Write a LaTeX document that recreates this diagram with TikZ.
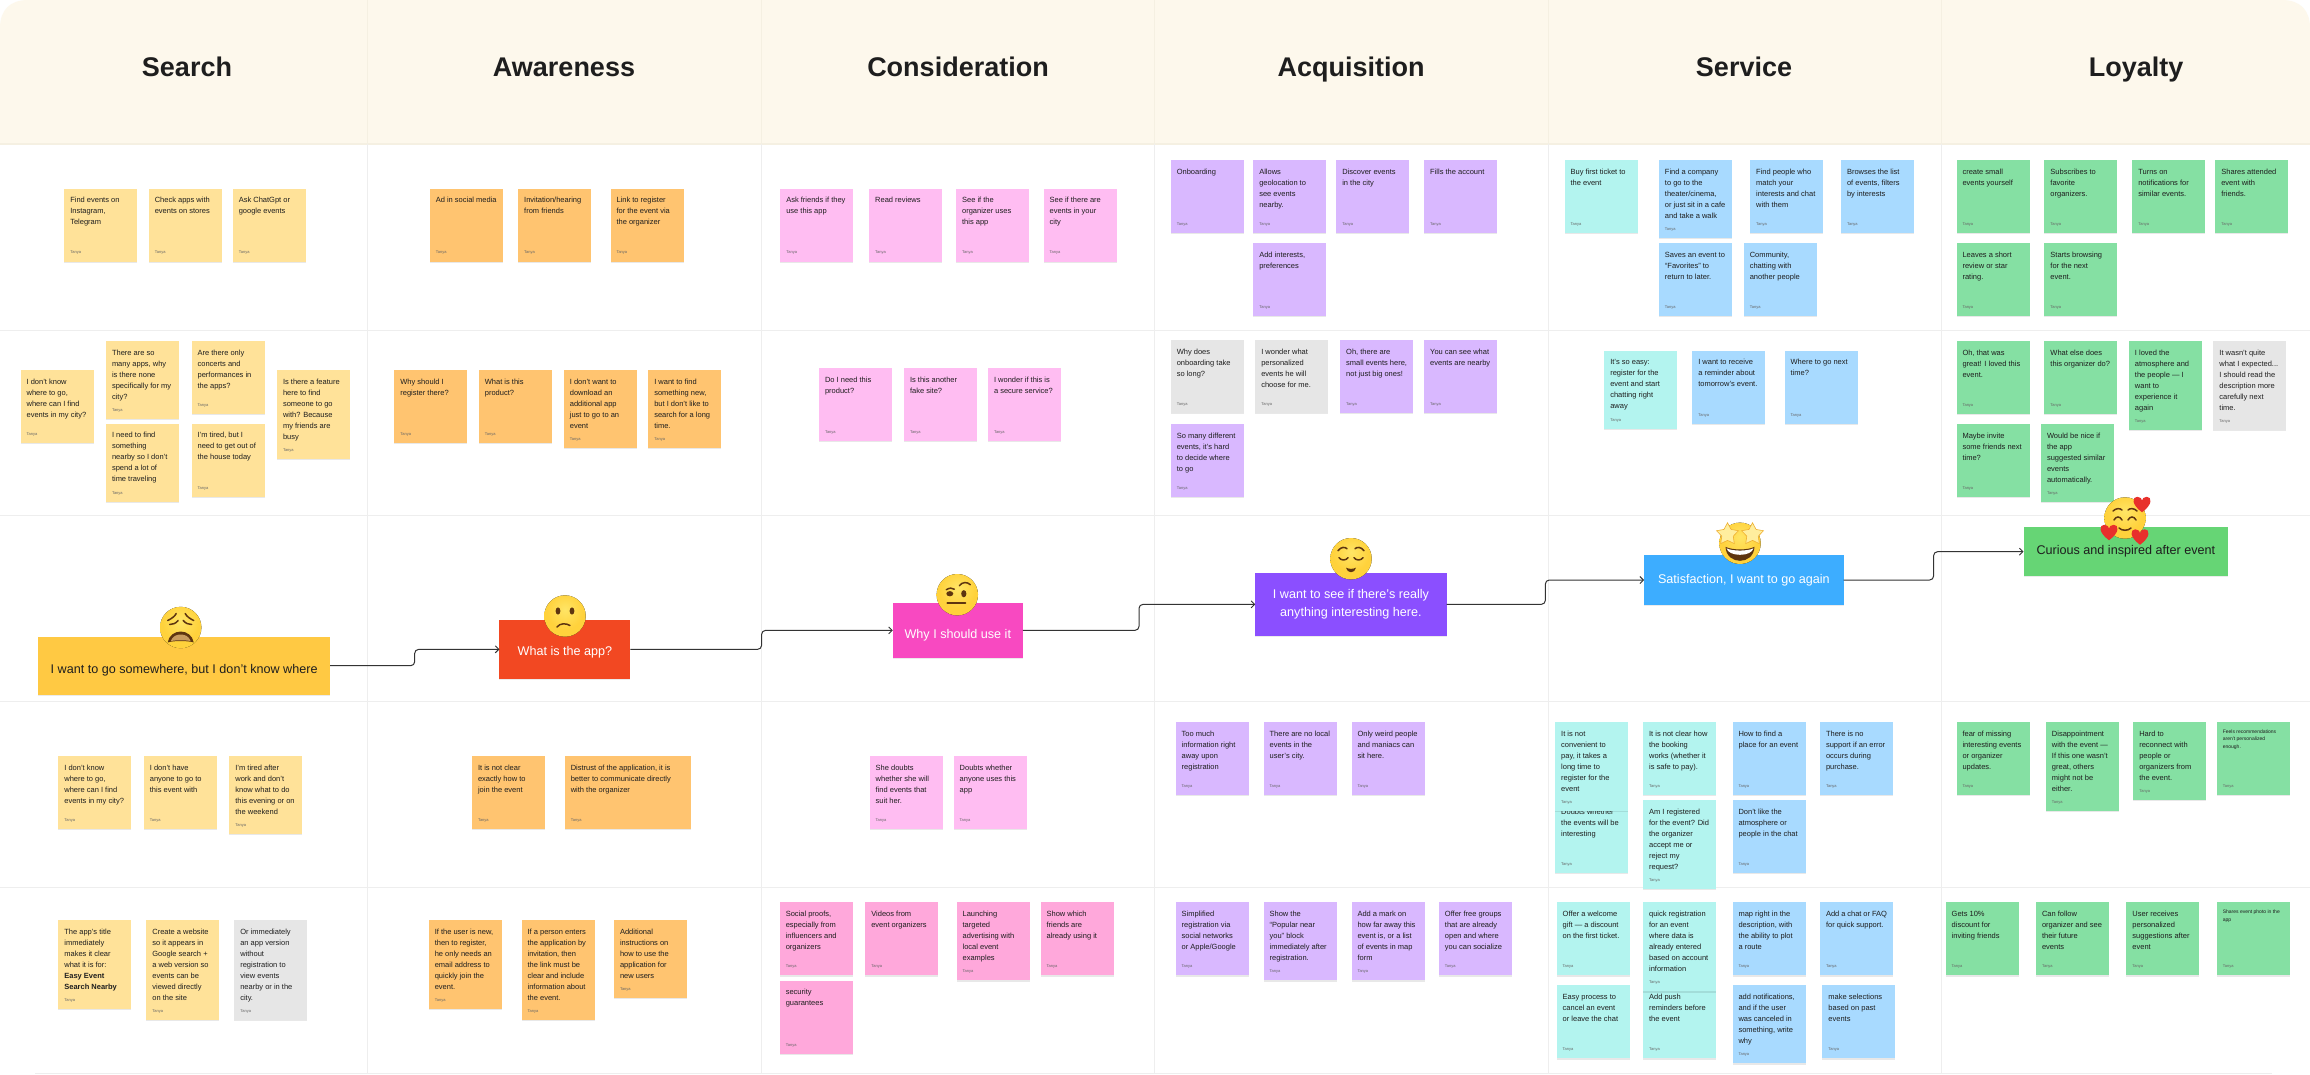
\documentclass[tikz,border=0pt]{standalone}
\usepackage{fontspec}
\setmainfont{Liberation Sans}
\usetikzlibrary{arrows.meta,calc,shadows,shapes.geometric}

\definecolor{headbg}{HTML}{FDF8EC}
\definecolor{headline}{HTML}{F5F0E2}
\definecolor{gridc}{HTML}{EEEEEE}
\definecolor{inkc}{HTML}{1E1E1E}
\definecolor{yel}{HTML}{FFE299}
\definecolor{ora}{HTML}{FFC470}
\definecolor{pin}{HTML}{FFBDF2}
\definecolor{hot}{HTML}{FFA8DB}
\definecolor{vio}{HTML}{D9B8FF}
\definecolor{tea}{HTML}{B3F4EF}
\definecolor{blu}{HTML}{A8DAFF}
\definecolor{gre}{HTML}{85E0A3}
\definecolor{gry}{HTML}{E6E6E6}
\definecolor{myel}{HTML}{FFC943}
\definecolor{mred}{HTML}{F24822}
\definecolor{mmag}{HTML}{F849C1}
\definecolor{mvio}{HTML}{8B4FFF}
\definecolor{mblu}{HTML}{3DADFF}
\definecolor{mgre}{HTML}{66D575}
\definecolor{emA}{HTML}{FFE566}
\definecolor{emB}{HTML}{FFD23C}
\definecolor{emC}{HTML}{F5A31E}
\definecolor{embrown}{HTML}{5E3510}
\definecolor{emtan}{HTML}{C79A5E}
\definecolor{emstar}{HTML}{FFEE9E}
\definecolor{emedge}{HTML}{EFB030}
\definecolor{emred}{HTML}{E8302C}

\pgfdeclareradialshading{emojiface}{\pgfpoint{0bp}{8bp}}{%
  color(0bp)=(emA); color(22bp)=(emB); color(38bp)=(emB); color(50bp)=(emC); color(100bp)=(emC)}

\tikzset{
  x=1pt,y=-1pt,
  note/.style={anchor=north west,inner sep=6pt,outer sep=0pt,text=inkc,
    drop shadow={shadow xshift=0pt,shadow yshift=-1.2pt,opacity=.09,fill=black}},
  mainbox/.style={anchor=north west,inner sep=0pt,outer sep=0pt,align=center,
    font=\fontsize{12.6}{18}\selectfont,
    drop shadow={shadow xshift=0pt,shadow yshift=-1pt,opacity=.08,fill=black}},
  title/.style={anchor=base,font=\fontsize{27}{30}\selectfont\bfseries,text=inkc,inner sep=0pt},
  gridline/.style={gridc,line width=1pt},
  conn/.style={draw=black!80,line width=1pt,rounded corners=4pt,
    -{Straight Barb[length=3.5pt,width=7pt,line width=.9pt]}},
  face/.style={shading=emojiface,draw=none},
  facefeat/.style={draw=embrown,line width=1.5pt,line cap=round},
  faceink/.style={fill=embrown,draw=none},
  starnode/.style={star,star points=5,star point ratio=1.9,minimum size=23pt,inner sep=0pt,
    fill=emstar,draw=emedge,line width=.6pt}
}

\newcount\stickyn
\def\notestrut{8pt}
\def\notefont{\fontsize{7.5}{11}\selectfont}
\newcommand{\smallnotes}{\def\notestrut{5.5pt}\def\notefont{\fontsize{5}{7.3}\selectfont}}
% [width]{x}{y}{height}{colour}{text}
\newcommand{\sticky}[6][73]{%
  \global\advance\stickyn by 1
  \node[note,fill=#5] (s\the\stickyn) at (#2,#3)
    {\parbox[t][\dimexpr#4pt-12pt\relax][t]{\dimexpr#1pt-12pt\relax}{\raggedright\notefont
      \rule{0pt}{\notestrut}#6\par\vfill
      {\fontsize{4}{4}\selectfont\color{black!60}Tanya}\par\vspace{.8pt}}};}
\newcommand{\heartat}[3]{%
  \fill[emred,shift={(#1,#2)},scale=#3]
    (0,5) .. controls (-7,0) and (-6.5,-5) .. (-3,-5)
    .. controls (-1,-5) and (0,-3.5) .. (0,-2.5)
    .. controls (0,-3.5) and (1,-5) .. (3,-5)
    .. controls (6.5,-5) and (7,0) .. (0,5) -- cycle;}

\begin{document}
\begin{tikzpicture}
\useasboundingbox (0,0) rectangle (2310,1074);
\fill[white] (0,0) rectangle (2310,1074);

% header band
\fill[headbg] (0,144) -- (0,28) .. controls (0,10) and (10,0) .. (28,0) -- (2282,0)
  .. controls (2300,0) and (2310,10) .. (2310,28) -- (2310,144) -- cycle;
\draw[headline,line width=1.4pt] (0,144) -- (2310,144);

% grid
\foreach \yy in {330,515.7,701,887}{\draw[gridline] (0,\yy) -- (2310,\yy);}
\draw[gridline] (35,1073) -- (2272,1073);
\foreach \xx in {367.5,761.5,1154.6,1548,1941}{
  \draw[headline,line width=1pt] (\xx,0) -- (\xx,144);
  \draw[gridline,line width=.8pt] (\xx,144) -- (\xx,1074);}

% titles
\node[title] (h1) at (187,76.7) {Search};
\node[title] (h2) at (564,76.7) {Awareness};
\node[title] (h3) at (958,76.7) {Consideration};
\node[title] (h4) at (1351,76.7) {Acquisition};
\node[title] (h5) at (1744,76.7) {Service};
\node[title] (h6) at (2136,76.7) {Loyalty};

% --- row 1 ---
\sticky{64.3}{188.5}{73}{yel}{Find events on\\Instagram,\\Telegram}
\sticky{148.8}{188.5}{73}{yel}{Check apps with\\events on stores}
\sticky{232.8}{188.5}{73}{yel}{Ask ChatGpt or\\google events}
\sticky{429.8}{188.5}{73}{ora}{Ad in social media}
\sticky{518.2}{188.5}{73}{ora}{Invitation/hearing\\from friends}
\sticky{610.5}{188.5}{73}{ora}{Link to register\\for the event via\\the organizer}
\sticky{780.3}{188.5}{73}{pin}{Ask friends if they\\use this app}
\sticky{869.2}{188.5}{73}{pin}{Read reviews}
\sticky{956.1}{188.5}{73}{pin}{See if the\\organizer uses\\this app}
\sticky{1043.6}{188.5}{73}{pin}{See if there are\\events in your\\city}
\sticky{1170.8}{160}{73}{vio}{Onboarding}
\sticky{1253.3}{160}{73}{vio}{Allows\\geolocation to\\see events\\nearby.}
\sticky{1336.3}{160}{73}{vio}{Discover events\\in the city}
\sticky{1424.2}{160}{73}{vio}{Fills the account}
\sticky{1253.3}{243}{73}{vio}{Add interests,\\preferences}
\sticky{1564.6}{160}{73}{tea}{Buy first ticket to\\the event}
\sticky{1658.9}{160}{78}{blu}{Find a company\\to go to the\\theater/cinema,\\or just sit in a cafe\\and take a walk}
\sticky{1750.2}{160}{73}{blu}{Find people who\\match your\\interests and chat\\with them}
\sticky{1841}{160}{73}{blu}{Browses the list\\of events, filters\\by interests}
\sticky{1658.9}{243}{73}{blu}{Saves an event to\\“Favorites” to\\return to later.}
\sticky{1743.8}{243}{73}{blu}{Community,\\chatting with\\another people}
\sticky{1956.5}{160}{73}{gre}{create small\\events yourself}
\sticky{2044.4}{160}{73}{gre}{Subscribes to\\favorite\\organizers.}
\sticky{2132.3}{160}{73}{gre}{Turns on\\notifications for\\similar events.}
\sticky{2215.3}{160}{73}{gre}{Shares attended\\event with\\friends.}
\sticky{1956.5}{243}{73}{gre}{Leaves a short\\review or star\\rating.}
\sticky{2044.4}{243}{73}{gre}{Starts browsing\\for the next\\event.}

% --- row 2 ---
\sticky{20.6}{370}{73}{yel}{I don't know\\where to go,\\where can I find\\events in my city?}
\sticky{106}{341}{78}{yel}{There are so\\many apps, why\\is there none\\specifically for my\\city?}
\sticky{191.6}{341}{73}{yel}{Are there only\\concerts and\\performances in\\the apps?}
\sticky{106}{423.7}{78}{yel}{I need to find\\something\\nearby so I don't\\spend a lot of\\time traveling}
\sticky{191.6}{423.7}{73}{yel}{I'm tired, but I\\need to get out of\\the house today}
\sticky{277}{370}{89}{yel}{Is there a feature\\here to find\\someone to go\\with? Because\\my friends are\\busy}
\sticky{394.4}{370}{73}{ora}{Why should I\\register there?}
\sticky{478.9}{370}{73}{ora}{What is this\\product?}
\sticky{563.9}{370}{78}{ora}{I don't want to\\download an\\additional app\\just to go to an\\event}
\sticky{648.3}{370}{78}{ora}{I want to find\\something new,\\but I don't like to\\search for a long\\time.}
\sticky{819}{368}{73}{pin}{Do I need this\\product?}
\sticky{904}{368}{73}{pin}{Is this another\\fake site?}
\sticky{988}{368}{73}{pin}{I wonder if this is\\a secure service?}
\sticky{1170.8}{340}{73}{gry}{Why does\\onboarding take\\so long?}
\sticky{1255.3}{340}{73}{gry}{I wonder what\\personalized\\events he will\\choose for me.}
\sticky{1340.2}{340}{73}{vio}{Oh, there are\\small events here,\\not just big ones!}
\sticky{1424.2}{340}{73}{vio}{You can see what\\events are nearby}
\sticky{1170.8}{424}{73}{vio}{So many different\\events, it's hard\\to decide where\\to go}
\sticky{1604.3}{350.7}{78}{tea}{It's so easy:\\register for the\\event and start\\chatting right\\away}
\sticky{1692.3}{350.7}{73}{blu}{I want to receive\\a reminder about\\tomorrow's event.}
\sticky{1784.6}{350.7}{73}{blu}{Where to go next\\time?}
\sticky{1956.5}{341}{73}{gre}{Oh, that was\\great! I loved this\\event.}
\sticky{2044.4}{341}{73}{gre}{What else does\\this organizer do?}
\sticky{2128.9}{341}{89}{gre}{I loved the\\atmosphere and\\the people — I\\want to\\experience it\\again}
\sticky{2213.4}{341}{89}{gry}{It wasn't quite\\what I expected...\\I should read the\\description more\\carefully next\\time.}
\sticky{1956.5}{424}{73}{gre}{Maybe invite\\some friends next\\time?}
\sticky{2041}{424}{78}{gre}{Would be nice if\\the app\\suggested similar\\events\\automatically.}

% --- row 3 (below the journey line) ---
\sticky{58.4}{756}{73}{yel}{I don't know\\where to go,\\where can I find\\events in my city?}
\sticky{143.9}{756}{73}{yel}{I don't have\\anyone to go to\\this event with}
\sticky{229.4}{756}{78}{yel}{I'm tired after\\work and don't\\know what to do\\this evening or on\\the weekend}
\sticky{472}{756}{73}{ora}{It is not clear\\exactly how to\\join the event}
\sticky[126]{564.8}{756}{73}{ora}{Distrust of the application, it is\\better to communicate directly\\with the organizer}
\sticky{869.7}{756}{73}{pin}{She doubts\\whether she will\\find events that\\suit her.}
\sticky{953.7}{756}{73}{pin}{Doubts whether\\anyone uses this\\app}
\sticky{1175.7}{722}{73}{vio}{Too much\\information right\\away upon\\registration}
\sticky{1263.6}{722}{73}{vio}{There are no local\\events in the\\user's city.}
\sticky{1351.5}{722}{73}{vio}{Only weird people\\and maniacs can\\sit here.}
\sticky{1555.2}{800}{73}{tea}{Doubts whether\\the events will be\\interesting}
\sticky{1555.2}{722}{89}{tea}{It is not\\convenient to\\pay, it takes a\\long time to\\register for the\\event}
\sticky{1643.1}{722}{73}{tea}{It is not clear how\\the booking\\works (whether it\\is safe to pay).}
\sticky{1643.1}{800}{89}{tea}{Am I registered\\for the event? Did\\the organizer\\accept me or\\reject my\\request?}
\sticky{1732.5}{722}{73}{blu}{How to find a\\place for an event}
\sticky{1732.5}{800}{73}{blu}{Don't like the\\atmosphere or\\people in the chat}
\sticky{1820}{722}{73}{blu}{There is no\\support if an error\\occurs during\\purchase.}
\sticky{1956.5}{722}{73}{gre}{fear of missing\\interesting events\\or organizer\\updates.}
\sticky{2045.9}{722}{89}{gre}{Disappointment\\with the event —\\If this one wasn't\\great, others\\might not be\\either.}
\sticky{2133.3}{722}{78}{gre}{Hard to\\reconnect with\\people or\\organizers from\\the event.}
\begingroup\smallnotes
\sticky{2216.8}{722}{73}{gre}{Feels recommendations\\aren't personalized\\enough.}
\endgroup

% --- row 4 ---
\sticky{58.4}{920}{89}{yel}{The app's title\\immediately\\makes it clear\\what it is for:\\\textbf{Easy Event}\\\textbf{Search Nearby}}
\sticky{146.4}{920}{100}{yel}{Create a website\\so it appears in\\Google search +\\a web version so\\events can be\\viewed directly\\on the site}
\sticky{234.3}{920}{100}{gry}{Or immediately\\an app version\\without\\registration to\\view events\\nearby or in the\\city.}
\sticky{428.8}{920}{89}{ora}{If the user is new,\\then to register,\\he only needs an\\email address to\\quickly join the\\event.}
\sticky{521.6}{920}{100}{ora}{If a person enters\\the application by\\invitation, then\\the link must be\\clear and include\\information about\\the event.}
\sticky{614}{920}{78}{ora}{Additional\\instructions on\\how to use the\\application for\\new users}
\sticky{779.8}{902.3}{73}{hot}{Social proofs,\\especially from\\influencers and\\organizers}
\sticky{865.3}{902.3}{73}{hot}{Videos from\\event organizers}
\sticky{956.6}{902.3}{78}{hot}{Launching\\targeted\\advertising with\\local event\\examples}
\sticky{1040.6}{902.3}{73}{hot}{Show which\\friends are\\already using it}
\sticky{779.8}{980.7}{73}{hot}{security\\guarantees}
\sticky{1175.7}{902.3}{73}{vio}{Simplified\\registration via\\social networks\\or Apple/Google}
\sticky{1263.6}{902.3}{78}{vio}{Show the\\“Popular near\\you” block\\immediately after\\registration.}
\sticky{1351.5}{902.3}{78}{vio}{Add a mark on\\how far away this\\event is, or a list\\of events in map\\form}
\sticky{1438.9}{902.3}{73}{vio}{Offer free groups\\that are already\\open and where\\you can socialize}
\sticky{1643.1}{985.3}{73}{tea}{Add push\\reminders before\\the event}
\sticky{1556.7}{902.3}{73}{tea}{Offer a welcome\\gift — a discount\\on the first ticket.}
\sticky{1643.1}{902.3}{89}{tea}{quick registration\\for an event\\where data is\\already entered\\based on account\\information}
\sticky{1556.7}{985.3}{73}{tea}{Easy process to\\cancel an event\\or leave the chat}
\sticky{1732.5}{902.3}{73}{blu}{map right in the\\description, with\\the ability to plot\\a route}
\sticky{1820}{902.3}{73}{blu}{Add a chat or FAQ\\for quick support.}
\sticky{1732.5}{985.3}{78}{blu}{add notifications,\\and if the user\\was canceled in\\something, write\\why}
\sticky{1822.4}{985.3}{73}{blu}{make selections\\based on past\\events}
\sticky{1945.7}{902.3}{73}{gre}{Gets 10\%\\discount for\\inviting friends}
\sticky{2036}{902.3}{73}{gre}{Can follow\\organizer and see\\their future\\events}
\sticky{2126.4}{902.3}{73}{gre}{User receives\\personalized\\suggestions after\\event}
\begingroup\smallnotes
\sticky{2216.8}{902.3}{73}{gre}{Shares event photo in the\\app}
\endgroup

% --- journey boxes ---
\node[mainbox,fill=myel,text=inkc,minimum width=291.7pt,minimum height=58pt] (b1) at (38.3,636.7) {\rule{0pt}{18pt}I want to go somewhere, but I don't know where};
\node[mainbox,fill=mred,text=white,minimum width=131pt,minimum height=58.7pt] (b2) at (499.4,620) {\rule{0pt}{14pt}What is the app?};
\node[mainbox,fill=mmag,text=white,minimum width=130pt,minimum height=54.7pt] (b3) at (892.8,603) {\rule{0pt}{18pt}Why I should use it};
\node[mainbox,fill=mvio,text=white,minimum width=191.5pt,minimum height=62.7pt] (b4) at (1255.2,573) {I want to see if there's really\\anything interesting here.};
\node[mainbox,fill=mblu,text=white,minimum width=199.7pt,minimum height=49.4pt] (b5) at (1644,555.3) {Satisfaction, I want to go again};
\node[mainbox,fill=mgre,text=inkc,minimum width=204.7pt,minimum height=49.3pt] (b6) at (2023.5,527) {Curious and inspired after event};

\foreach \p/\q/\m in {b1/b2/m1,b2/b3/m2,b3/b4/m3,b4/b5/m4,b5/b6/m5}{
  \coordinate (\m) at ($(\p.east)!.5!(\q.west)$);
  \draw[conn] (\p.east) -| (\m) |- (\q.west);
}

% --- emoji: tired face ---
\begin{scope}[shift={(180.7,627.5)}]
  \fill[face] (0,0) circle[radius=20.7];
  \draw[facefeat] (-13,-7) .. controls (-9,-9) and (-6,-11) .. (-4.5,-14);
  \draw[facefeat] (13,-7) .. controls (9,-9) and (6,-11) .. (4.5,-14);
  \draw[facefeat] (-11,-3) .. controls (-8,-3) and (-5,-4) .. (-2.5,-7);
  \draw[facefeat] (11,-3) .. controls (8,-3) and (5,-4) .. (2.5,-7);
  \fill[faceink] (-13,15) .. controls (-12,8) and (-6,4) .. (0,4)
    .. controls (6,4) and (12,8) .. (13,15) .. controls (8,13) and (-8,13) .. (-13,15) -- cycle;
  \fill[emtan] (-10,13.6) .. controls (-8,8.5) and (-4,7) .. (0,7)
    .. controls (4,7) and (8,8.5) .. (10,13.6) .. controls (5,12.5) and (-5,12.5) .. (-10,13.6) -- cycle;
\end{scope}
% --- emoji: frowning face ---
\begin{scope}[shift={(565,616)}]
  \fill[face] (0,0) circle[radius=20.7];
  \fill[faceink] (-7,-5) ellipse[x radius=2.4,y radius=3.6];
  \fill[faceink] (7,-5) ellipse[x radius=2.4,y radius=3.6];
  \draw[facefeat] (-8,11) .. controls (-5,7) and (1,7) .. (5,9.5);
\end{scope}
% --- emoji: raised eyebrow ---
\begin{scope}[shift={(957.3,594.7)}]
  \fill[face] (0,0) circle[radius=20.7];
  \draw[facefeat] (-11,-5) .. controls (-8,-7) and (-5,-7) .. (-3,-5.5);
  \fill[faceink] (-7.5,-1) ellipse[x radius=3.5,y radius=2.6];
  \fill[faceink] (6.5,-1) ellipse[x radius=2.6,y radius=3.6];
  \draw[facefeat] (2,-9) .. controls (5,-13) and (10,-13) .. (13,-10);
  \draw[facefeat,line width=1.9pt] (-10,8) -- (8,8);
\end{scope}
% --- emoji: relieved face ---
\begin{scope}[shift={(1351,558.7)}]
  \fill[face] (0,0) circle[radius=20.7];
  \draw[facefeat] (-13,-8) .. controls (-10,-12) and (-6,-12) .. (-4,-10);
  \draw[facefeat] (13,-8) .. controls (10,-12) and (6,-12) .. (4,-10);
  \draw[facefeat] (-12,-1) .. controls (-10,2) and (-5,2) .. (-3,-1);
  \draw[facefeat] (12,-1) .. controls (10,2) and (5,2) .. (3,-1);
  \fill[faceink] (-5,9) .. controls (-2,10.5) and (2,10.5) .. (5,9) .. controls (4,15) and (-4,15) .. (-5,9) -- cycle;
\end{scope}
% --- emoji: star-struck ---
\begin{scope}[shift={(1740,543.3)}]
  \fill[face] (0,0) circle[radius=20.7];
  \fill[faceink] (-14.5,3.5) .. controls (-8,7) and (8,7) .. (14.5,3.5)
    .. controls (14,13) and (7,17.5) .. (0,17.5) .. controls (-7,17.5) and (-14,13) .. (-14.5,3.5) -- cycle;
  \fill[white] (-13.4,5) .. controls (-8,8) and (8,8) .. (13.4,5)
    .. controls (12.5,9) and (7,11.5) .. (0,11.5) .. controls (-7,11.5) and (-12.5,9) .. (-13.4,5) -- cycle;
  \node[starnode] (star1) at (-12.5,-9) {};
  \node[starnode] (star2) at (12.5,-9) {};
\end{scope}
% --- emoji: smiling with hearts ---
\begin{scope}[shift={(2125,518)}]
  \fill[face] (0,0) circle[radius=20.7];
  \draw[facefeat] (-12,-7) .. controls (-9,-10) and (-5,-10) .. (-3,-8);
  \draw[facefeat] (12,-7) .. controls (9,-10) and (5,-10) .. (3,-8);
  \draw[facefeat] (-11,2) .. controls (-9,-2) and (-5,-2) .. (-3,2);
  \draw[facefeat] (11,2) .. controls (9,-2) and (5,-2) .. (3,2);
  \draw[facefeat] (-6,10) .. controls (-3,13) and (3,13) .. (6,10);
  \heartat{17}{-13.5}{1.55}
  \heartat{-16}{14.5}{1.55}
  \heartat{15}{19}{1.55}
\end{scope}
\end{tikzpicture}
\end{document}
